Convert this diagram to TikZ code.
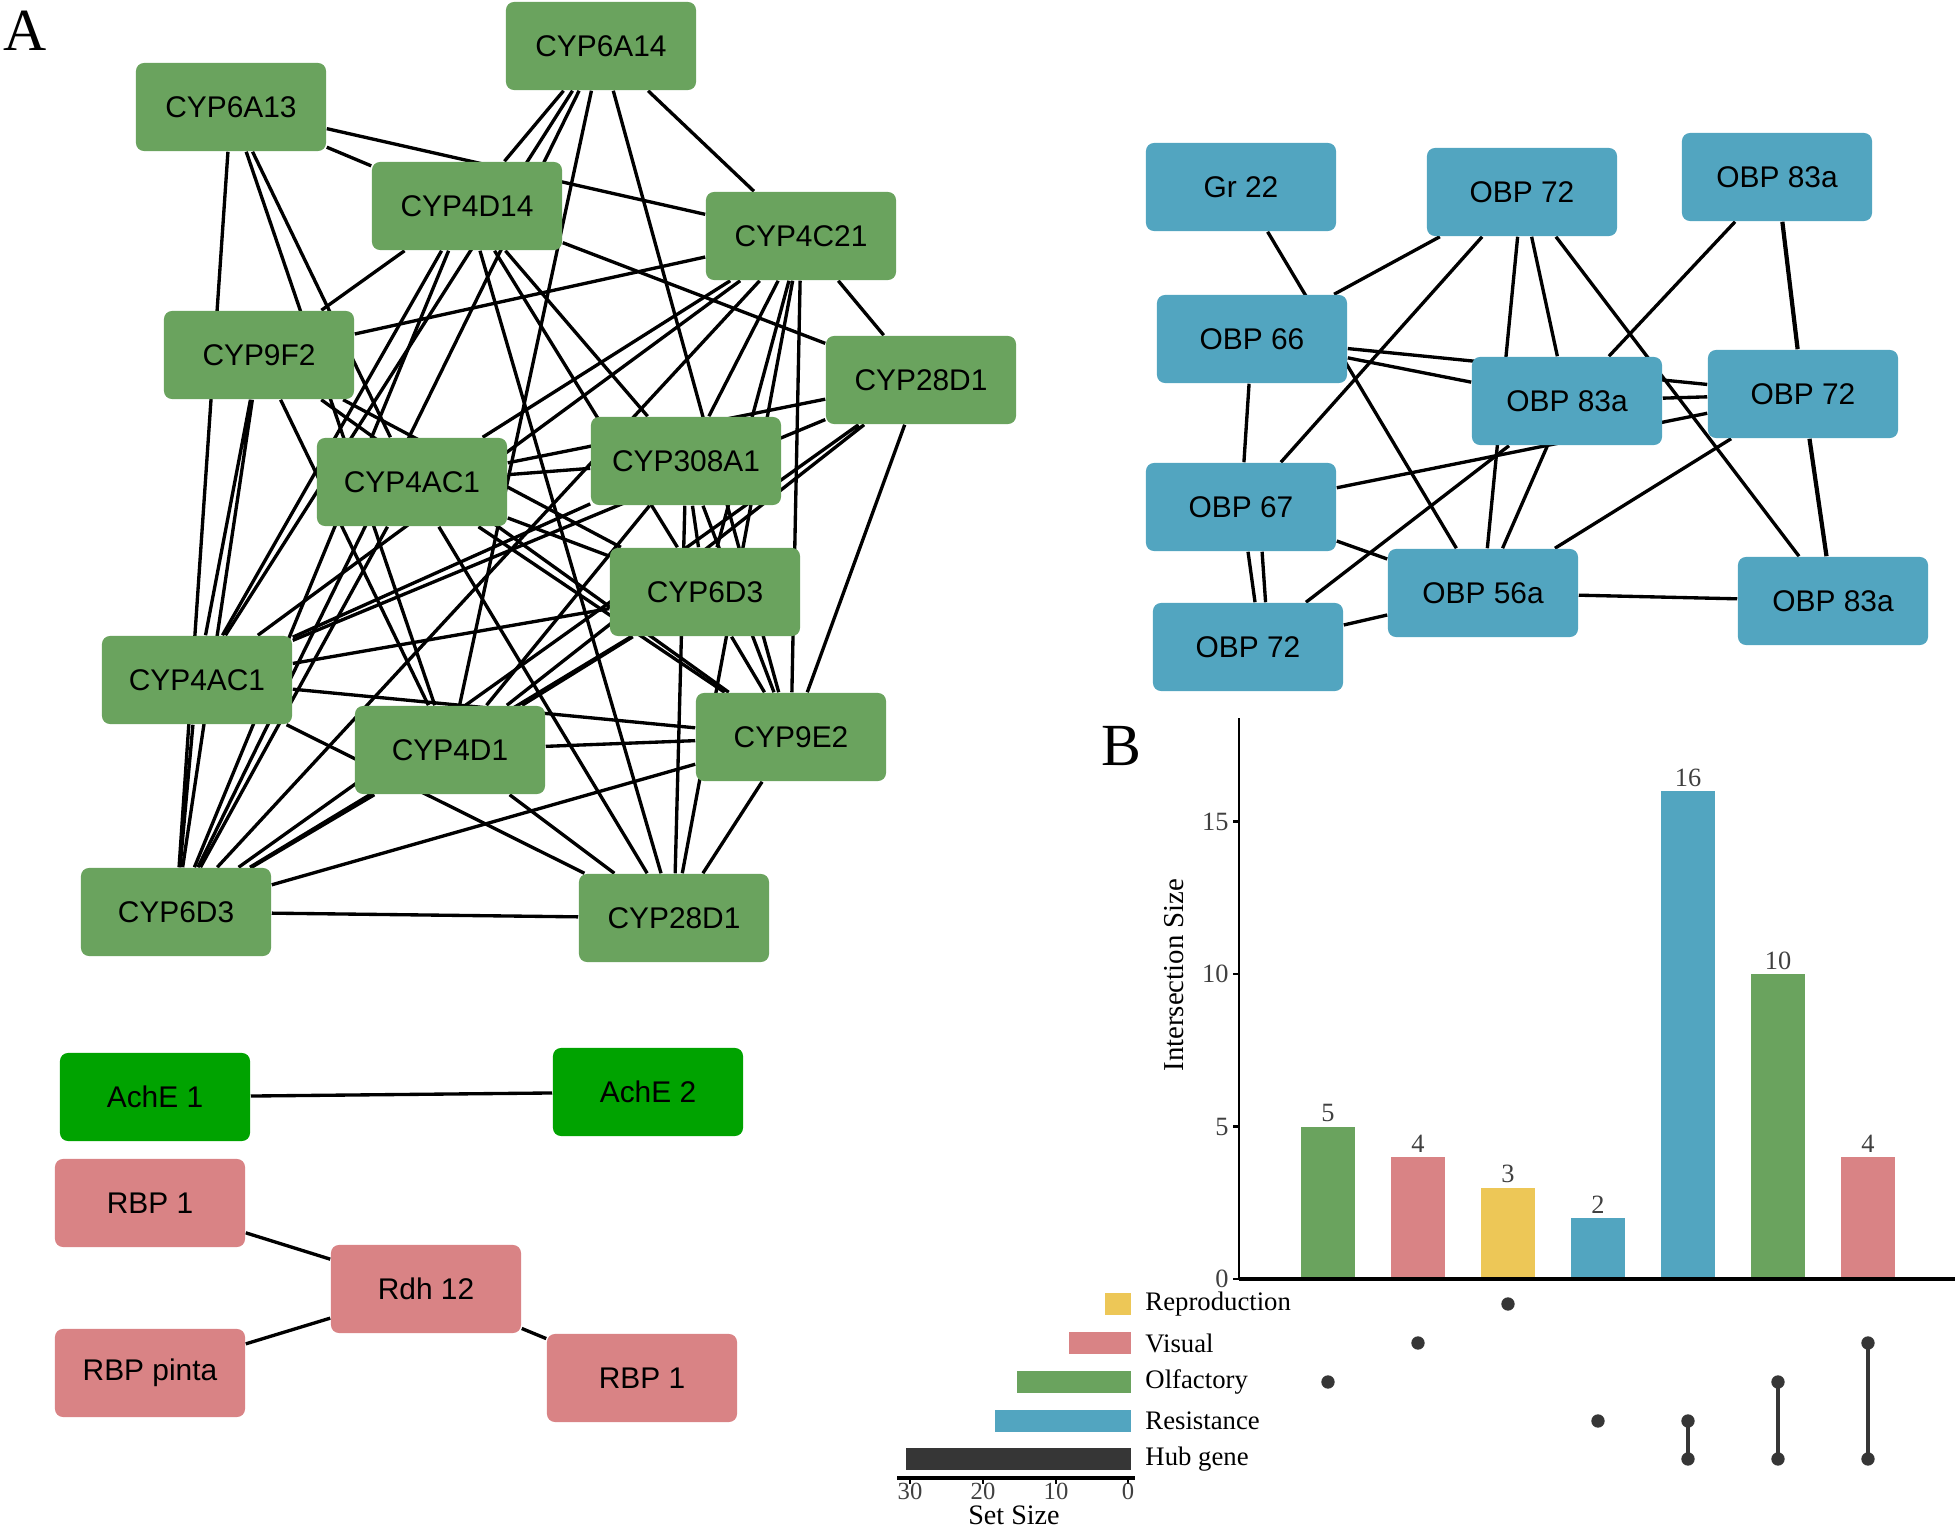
\documentclass[tikz,border=0pt]{standalone}
\usepackage{fontspec}
\setmainfont{Liberation Serif}
\newfontfamily\genefont{Liberation Sans}
\usetikzlibrary{backgrounds}
\definecolor{cypgreen}{HTML}{6AA35E}
\definecolor{obpblue}{HTML}{52A5C0}
\definecolor{rbppink}{HTML}{D98385}
\definecolor{achgreen}{HTML}{00A300}
\definecolor{reproyellow}{HTML}{EDC757}
\definecolor{hubgray}{HTML}{363636}

\begin{document}
\begin{tikzpicture}[x=0.01cm, y=-0.01cm,
  gene/.style={rectangle, rounded corners=2.3pt, minimum width=1.9cm, minimum height=0.88cm, inner sep=0pt, font=\genefont\fontsize{8.5}{10}\selectfont},
  link/.style={line width=0.95pt, black},
  tick/.style={inner sep=0.5pt, font=\fontsize{7.5}{9}\selectfont, text=black!75},
  setlab/.style={anchor=west, inner sep=0.5pt, font=\fontsize{7.6}{9}\selectfont}]
  \useasboundingbox (0,0) rectangle (1959,1530);

  % Panel letters
  \node[font=\fontsize{17}{20}\selectfont] (labA) at (25,31) {A};
  \node[font=\fontsize{17}{20}\selectfont] (labB) at (1121,746) {B};

  % Resistance network (CYP)
  \node[gene, fill=cypgreen] (a14) at (601,46) {CYP6A14};
  \node[gene, fill=cypgreen] (a13) at (231,107) {CYP6A13};
  \node[gene, fill=cypgreen] (d14) at (467,206) {CYP4D14};
  \node[gene, fill=cypgreen] (c21) at (801,236) {CYP4C21};
  \node[gene, fill=cypgreen] (f2) at (259,355) {CYP9F2};
  \node[gene, fill=cypgreen] (d28t) at (921,380) {CYP28D1};
  \node[gene, fill=cypgreen] (ac1m) at (412,482) {CYP4AC1};
  \node[gene, fill=cypgreen] (a308) at (686,461) {CYP308A1};
  \node[gene, fill=cypgreen] (d3m) at (705,592) {CYP6D3};
  \node[gene, fill=cypgreen] (ac1l) at (197,680) {CYP4AC1};
  \node[gene, fill=cypgreen] (d1) at (450,750) {CYP4D1};
  \node[gene, fill=cypgreen] (e2) at (791,737) {CYP9E2};
  \node[gene, fill=cypgreen] (d3b) at (176,912) {CYP6D3};
  \node[gene, fill=cypgreen] (d28b) at (674,918) {CYP28D1};

  % Olfactory network (OBP)
  \node[gene, fill=obpblue] (gr22) at (1241,187) {Gr 22};
  \node[gene, fill=obpblue] (o72t) at (1522,192) {OBP 72};
  \node[gene, fill=obpblue] (o83t) at (1777,177) {OBP 83a};
  \node[gene, fill=obpblue] (o66) at (1252,339) {OBP 66};
  \node[gene, fill=obpblue] (o83m) at (1567,401) {OBP 83a};
  \node[gene, fill=obpblue] (o72r) at (1803,394) {OBP 72};
  \node[gene, fill=obpblue] (o67) at (1241,507) {OBP 67};
  \node[gene, fill=obpblue] (o56) at (1483,593) {OBP 56a};
  \node[gene, fill=obpblue] (o83r) at (1833,601) {OBP 83a};
  \node[gene, fill=obpblue] (o72b) at (1248,647) {OBP 72};

  % Reproduction and visual
  \node[gene, fill=achgreen] (ache1) at (155,1097) {AchE 1};
  \node[gene, fill=achgreen] (ache2) at (648,1092) {AchE 2};
  \node[gene, fill=rbppink] (rbpa) at (150,1203) {RBP 1};
  \node[gene, fill=rbppink] (rdh) at (426,1289) {Rdh 12};
  \node[gene, fill=rbppink] (rbpp) at (150,1373) {RBP pinta};
  \node[gene, fill=rbppink] (rbpb) at (642,1378) {RBP 1};

  % Edges
  \begin{scope}[on background layer]
    \draw[link] (a14) -- (d14) (a14) -- (ac1l) (a14) -- (d3b) (a14) -- (d1) (a14) -- (e2) (a14) -- (c21);
    \draw[link] (a13) -- (c21) (a13) -- (d14) (a13) -- (d3b) (a13) -- (d1) (a13) -- (ac1m);
    \draw[link] (d14) -- (f2) (d14) -- (ac1l) (d14) -- (d3b) (d14) -- (d28b) (d14) -- (a308) (d14) -- (d3m) (d14) -- (d28t);
    \draw[link] (c21) -- (d28t) (c21) -- (e2) (c21) -- (d28b) (c21) -- (d3m) (c21) -- (a308) (c21) -- (d3b) (c21) -- (ac1m) (c21) -- (ac1l) (c21) -- (f2);
    \draw[link] (d28t) -- (ac1m) (d28t) -- (ac1l) (d28t) -- (d1) (d28t) -- (d3b) (d28t) -- (e2);
    \draw[link] (f2) -- (d1) (f2) -- (d3m) (f2) -- (e2) (f2) -- (ac1l) (f2) -- (d3b);
    \draw[link] (ac1m) -- (a308) (ac1m) -- (d3b) (ac1m) -- (d28b) (ac1m) -- (d3m) (ac1m) -- (e2);
    \draw[link] (a308) -- (ac1l) (a308) -- (d1) (a308) -- (e2) (a308) -- (d3m) (a308) -- (d28b);
    \draw[link] (d3m) -- (ac1l) (d3m) -- (d3b) (d3m) -- (d1) (d3m) -- (e2);
    \draw[link] (ac1l) -- (e2) (ac1l) -- (d28b) (ac1l) -- (d3b);
    \draw[link] (d1) -- (e2) (d1) -- (d3b) (d1) -- (d28b);
    \draw[link] (e2) -- (d3b) (e2) -- (d28b) (d3b) -- (d28b);

    \draw[link] (gr22) -- (o56);
    \draw[link] (o72t) -- (o66) (o72t) -- (o67) (o72t) -- (o56) (o72t) -- (o83m) (o72t) -- (o83r);
    \draw[link] (o83t) -- (o83m);
    \draw[link, line width=1.2pt] (o83t) -- (o72r) (o72r) -- (o83r);
    \draw[link] (o66) -- (o83m) (o66) -- (o72r) (o66) -- (o67);
    \draw[link] (o83m) -- (o72r) (o83m) -- (o72b) (o83m) -- (o56);
    \draw[link] (o67) -- (o72r) (o67) -- (o56);
    \draw[link] ([xshift=2pt]o67.south) -- ([xshift=2pt]o72b.north);
    \draw[link] ([xshift=6pt]o67.south) -- ([xshift=5pt]o72b.north);
    \draw[link] (o72r) -- (o56) (o72b) -- (o56) (o56) -- (o83r);

    \draw[link] (ache1) -- (ache2);
    \draw[link] (rbpa) -- (rdh) (rbpp) -- (rdh) (rdh) -- (rbpb);
  \end{scope}

  % Intersection bars
  \fill[cypgreen] (1301,1279) rectangle (1355,1126.5);
  \fill[rbppink] (1391,1279) rectangle (1445,1157);
  \fill[reproyellow] (1481,1279) rectangle (1535,1187.5);
  \fill[obpblue] (1571,1279) rectangle (1625,1218);
  \fill[obpblue] (1661,1279) rectangle (1715,791);
  \fill[cypgreen] (1751,1279) rectangle (1805,974);
  \fill[rbppink] (1841,1279) rectangle (1895,1157);
  \node[tick] (v1) at (1328,1113) {5};
  \node[tick] (v2) at (1418,1144) {4};
  \node[tick] (v3) at (1508,1174) {3};
  \node[tick] (v4) at (1598,1205) {2};
  \node[tick] (v5) at (1688,778) {16};
  \node[tick] (v6) at (1778,961) {10};
  \node[tick] (v7) at (1868,1144) {4};

  % Axes
  \draw[line width=0.7pt] (1239,718) -- (1239,1279);
  \draw[line width=1.3pt] (1239,1279) -- (1955,1279);
  \draw[line width=0.7pt] (1233,1279) -- (1239,1279) (1233,1126.5) -- (1239,1126.5) (1233,974) -- (1239,974) (1233,821.5) -- (1239,821.5);
  \node[tick, anchor=east] (t0) at (1231,1279) {0};
  \node[tick, anchor=east] (t5) at (1231,1126.5) {5};
  \node[tick, anchor=east] (t10) at (1231,974) {10};
  \node[tick, anchor=east] (t15) at (1231,821.5) {15};
  \node[rotate=90, font=\fontsize{8.2}{10}\selectfont] (ylab) at (1174,975) {Intersection Size};

  % Matrix
  \fill[hubgray] (1328,1382) circle (1.9pt);
  \fill[hubgray] (1418,1343) circle (1.9pt);
  \fill[hubgray] (1508,1304) circle (1.9pt);
  \fill[hubgray] (1598,1421) circle (1.9pt);
  \fill[hubgray] (1688,1421) circle (1.9pt) (1688,1459) circle (1.9pt);
  \fill[hubgray] (1778,1382) circle (1.9pt) (1778,1459) circle (1.9pt);
  \fill[hubgray] (1868,1343) circle (1.9pt) (1868,1459) circle (1.9pt);
  \draw[hubgray, line width=1.3pt] (1688,1421) -- (1688,1459) (1778,1382) -- (1778,1459) (1868,1343) -- (1868,1459);

  % Set sizes
  \fill[reproyellow] (1105,1293) rectangle (1131,1315);
  \fill[rbppink] (1069,1332) rectangle (1131,1354);
  \fill[cypgreen] (1017,1371) rectangle (1131,1393);
  \fill[obpblue] (995,1410) rectangle (1131,1432);
  \fill[hubgray] (906,1448) rectangle (1131,1470);
  \node[setlab] (sRep) at (1143,1304) {Reproduction};
  \node[setlab] (sVis) at (1143,1343) {Visual};
  \node[setlab] (sOlf) at (1143,1382) {Olfactory};
  \node[setlab] (sRes) at (1143,1421) {Resistance};
  \node[setlab] (sHub) at (1143,1459) {Hub gene};
  \draw[line width=1.1pt] (897,1478) -- (1135,1478);
  \draw[line width=0.7pt] (910,1478) -- (910,1484) (983,1478) -- (983,1484) (1056,1478) -- (1056,1484) (1128,1478) -- (1128,1484);
  \node[tick, font=\fontsize{7}{8}\selectfont] (s30) at (910,1491) {30};
  \node[tick, font=\fontsize{7}{8}\selectfont] (s20) at (983,1491) {20};
  \node[tick, font=\fontsize{7}{8}\selectfont] (s10) at (1056,1491) {10};
  \node[tick, font=\fontsize{7}{8}\selectfont] (s0) at (1128,1491) {0};
  \node[inner sep=0.5pt, font=\fontsize{8}{9}\selectfont] (xlab) at (1014,1515) {Set Size};
\end{tikzpicture}
\end{document}
